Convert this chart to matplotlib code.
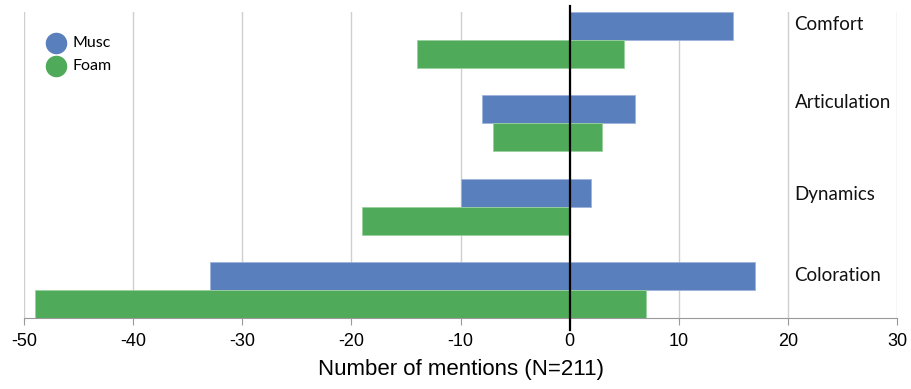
import numpy as np
import matplotlib.pyplot as plt
from matplotlib import font_manager

categories = ["Coloration", "Dynamics", "Articulation", "Comfort"]
musc_neg = [-33, -10, -8, 0]
musc_pos = [17, 2, 6, 15]
foam_neg = [-49, -19, -7, -14]
foam_pos = [7, 0, 3, 5]
xticks = [-50, -40, -30, -20, -10, 0, 10, 20, 30]

blue = "#5a7fbd"
green = "#4fab59"

names = {f.name for f in font_manager.fontManager.ttflist}
narrow = "Liberation Sans Narrow" if "Liberation Sans Narrow" in names else "Liberation Sans"

fig = plt.figure(figsize=(9.12, 3.89), dpi=100)
ax = fig.add_axes([0.0263, 0.1825, 0.9573, 0.7865])

y = np.arange(len(categories))
h = 1 / 3
ax.barh(y + h / 2, musc_pos, height=h, color=blue, edgecolor="#9fb4dc", linewidth=0.6, zorder=2)
ax.barh(y + h / 2, musc_neg, height=h, color=blue, edgecolor="#9fb4dc", linewidth=0.6, zorder=2)
ax.barh(y - h / 2, foam_pos, height=h, color=green, edgecolor="#9bd0a0", linewidth=0.6, zorder=2)
ax.barh(y - h / 2, foam_neg, height=h, color=green, edgecolor="#9bd0a0", linewidth=0.6, zorder=2)

# labels sit a bit above the blue bar centre in the original
offsets = [0.18, 0.15, 0.25, 0.18]
for yi, name, off in zip(y, categories, offsets):
    ax.text(20.6, yi + off, name, ha="left", va="center", fontsize=13.5,
            family="Lato", color="#111111")

ax.set_xlim(-50, 30)
ax.set_ylim(-h, 3 + h)
ax.set_xticks(xticks)
ax.set_xticklabels([str(t) for t in xticks], family=narrow, fontsize=13)
ax.set_yticks([])
ax.grid(axis="x", color="#cfcfcf", linewidth=1, zorder=0)
for s in ["top", "right", "left"]:
    ax.spines[s].set_visible(False)
ax.spines["bottom"].set_color("#999999")
ax.tick_params(axis="x", colors="#999999", length=5, pad=6, labelcolor="black")

ax.axvline(0, ymin=-0.04, ymax=1.02, color="black", linewidth=1.6, clip_on=False, zorder=3)
ax.set_xlabel("Number of mentions (N=211)", family=narrow, fontsize=16, labelpad=6)

# hand made legend (circles)
ax.scatter([-47.1], [2.96], s=210, color=blue, zorder=4)
ax.scatter([-47.1], [2.69], s=210, color=green, zorder=4)
ax.text(-45.6, 2.96, "Musc", va="center", fontsize=11.5, family="Lato")
ax.text(-45.6, 2.69, "Foam", va="center", fontsize=11.5, family="Lato")

fig.savefig("out.png", dpi=100)
